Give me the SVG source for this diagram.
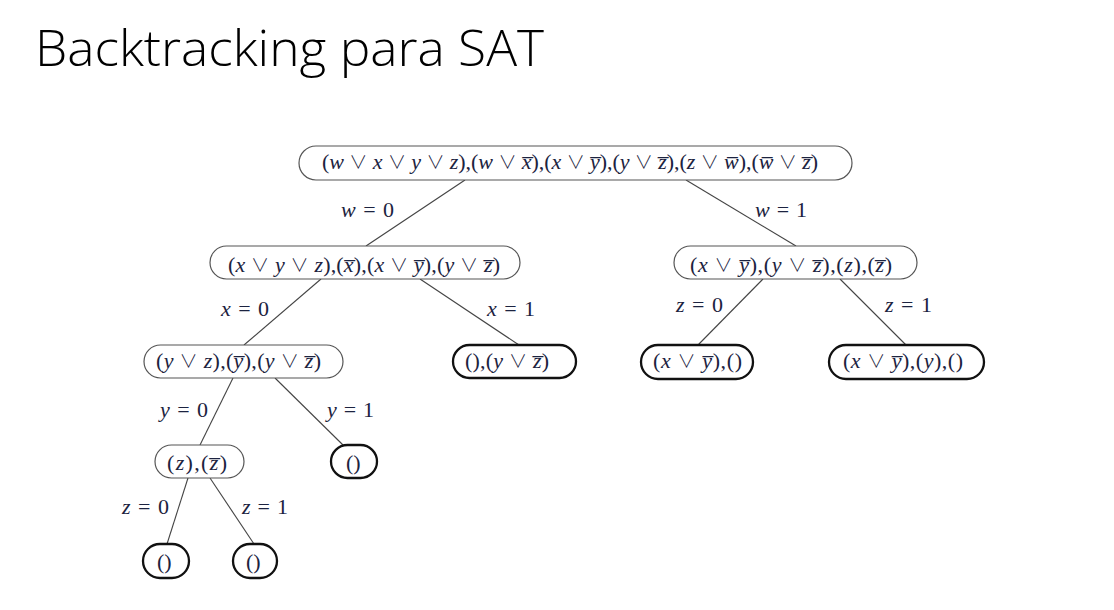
<svg xmlns="http://www.w3.org/2000/svg" width="1114" height="610" viewBox="0 0 1114 610">
<style>
.bg{fill:#ffffff}
.title{font-family:"Open Sans","Liberation Sans",sans-serif;font-weight:300;font-size:49px;fill:#000}
.m{font-family:"Liberation Serif",serif;font-size:22px;fill:#1c2340}
.v{font-style:italic}
.o{font-family:"Noto Sans CJK JP","DejaVu Serif",serif;font-size:18px;font-weight:300}
.n{fill:#fff;stroke:#555;stroke-width:1.2}
.leaf{fill:#fff;stroke:#111;stroke-width:2.3}
.e{stroke:#444;stroke-width:1.1;fill:none}
</style>
<rect class="bg" x="0" y="0" width="1114" height="610"/>
<text class="title" x="35" y="66" textLength="509" lengthAdjust="spacingAndGlyphs">Backtracking para SAT</text>

<g id="connectors">
<line class="e" x1="465" y1="180" x2="366" y2="246"/>
<line class="e" x1="686" y1="180" x2="796" y2="246"/>
<line class="e" x1="321" y1="279" x2="244" y2="345"/>
<line class="e" x1="420" y1="279" x2="519" y2="345"/>
<line class="e" x1="763" y1="279" x2="698" y2="345"/>
<line class="e" x1="840" y1="279" x2="906" y2="345"/>
<line class="e" x1="233" y1="378" x2="200" y2="445"/>
<line class="e" x1="275" y1="378" x2="343" y2="445"/>
<line class="e" x1="188" y1="478" x2="167" y2="544"/>
<line class="e" x1="210" y1="478" x2="254" y2="544"/>
<text class="m" x="341" y="217" textLength="53" lengthAdjust="spacing"><tspan class="v">w</tspan> = 0</text>
<text class="m" x="755" y="217" textLength="52" lengthAdjust="spacing"><tspan class="v">w</tspan> = 1</text>
<text class="m" x="221" y="316" textLength="48" lengthAdjust="spacing"><tspan class="v">x</tspan> = 0</text>
<text class="m" x="487" y="316" textLength="48" lengthAdjust="spacing"><tspan class="v">x</tspan> = 1</text>
<text class="m" x="676" y="312" textLength="47" lengthAdjust="spacing"><tspan class="v">z</tspan> = 0</text>
<text class="m" x="885" y="312" textLength="47" lengthAdjust="spacing"><tspan class="v">z</tspan> = 1</text>
<text class="m" x="160" y="417" textLength="48" lengthAdjust="spacing"><tspan class="v">y</tspan> = 0</text>
<text class="m" x="327" y="417" textLength="47" lengthAdjust="spacing"><tspan class="v">y</tspan> = 1</text>
<text class="m" x="122" y="514" textLength="47" lengthAdjust="spacing"><tspan class="v">z</tspan> = 0</text>
<text class="m" x="242" y="514" textLength="46" lengthAdjust="spacing"><tspan class="v">z</tspan> = 1</text>
</g>

<g id="n1">
<rect class="n" x="299" y="146" width="553" height="34" rx="17"/>
<text class="m" x="322" y="169" textLength="496" lengthAdjust="spacing">(<tspan class="v">w</tspan> <tspan class="o">∨</tspan> <tspan class="v">x</tspan> <tspan class="o">∨</tspan> <tspan class="v">y</tspan> <tspan class="o">∨</tspan> <tspan class="v">z</tspan>),(<tspan class="v">w</tspan> <tspan class="o">∨</tspan> <tspan class="v">x̅</tspan>),(<tspan class="v">x</tspan> <tspan class="o">∨</tspan> <tspan class="v">y̅</tspan>),(<tspan class="v">y</tspan> <tspan class="o">∨</tspan> <tspan class="v">z̅</tspan>),(<tspan class="v">z</tspan> <tspan class="o">∨</tspan> <tspan class="v">w̅</tspan>),(<tspan class="v">w̅</tspan> <tspan class="o">∨</tspan> <tspan class="v">z̅</tspan>)</text>
</g>

<g id="n2">
<rect class="n" x="210" y="246" width="310" height="33" rx="16.5"/>
<text class="m" x="228" y="272" textLength="272" lengthAdjust="spacing">(<tspan class="v">x</tspan> <tspan class="o">∨</tspan> <tspan class="v">y</tspan> <tspan class="o">∨</tspan> <tspan class="v">z</tspan>),(<tspan class="v">x̅</tspan>),(<tspan class="v">x</tspan> <tspan class="o">∨</tspan> <tspan class="v">y̅</tspan>),(<tspan class="v">y</tspan> <tspan class="o">∨</tspan> <tspan class="v">z̅</tspan>)</text>
</g>

<g id="n3">
<rect class="n" x="674" y="246" width="243" height="33" rx="16.5"/>
<text class="m" x="690" y="272" textLength="202" lengthAdjust="spacing">(<tspan class="v">x</tspan> <tspan class="o">∨</tspan> <tspan class="v">y̅</tspan>),(<tspan class="v">y</tspan> <tspan class="o">∨</tspan> <tspan class="v">z̅</tspan>),(<tspan class="v">z</tspan>),(<tspan class="v">z̅</tspan>)</text>
</g>

<g id="n4">
<rect class="n" x="144" y="345" width="199" height="33" rx="16.5"/>
<text class="m" x="156" y="368" textLength="165" lengthAdjust="spacing">(<tspan class="v">y</tspan> <tspan class="o">∨</tspan> <tspan class="v">z</tspan>),(<tspan class="v">y̅</tspan>),(<tspan class="v">y</tspan> <tspan class="o">∨</tspan> <tspan class="v">z̅</tspan>)</text>
</g>

<g id="n5">
<rect class="leaf" x="453" y="345" width="123" height="33" rx="16.5"/>
<text class="m" x="465" y="368" textLength="84" lengthAdjust="spacing">(),(<tspan class="v">y</tspan> <tspan class="o">∨</tspan> <tspan class="v">z̅</tspan>)</text>
</g>

<g id="n6">
<rect class="leaf" x="641" y="345" width="112" height="34" rx="17"/>
<text class="m" x="653" y="368" textLength="89" lengthAdjust="spacing">(<tspan class="v">x</tspan> <tspan class="o">∨</tspan> <tspan class="v">y̅</tspan>),()</text>
</g>

<g id="n7">
<rect class="leaf" x="829" y="345" width="155" height="34" rx="17"/>
<text class="m" x="843" y="368" textLength="120" lengthAdjust="spacing">(<tspan class="v">x</tspan> <tspan class="o">∨</tspan> <tspan class="v">y̅</tspan>),(<tspan class="v">y</tspan>),()</text>
</g>

<g id="n8">
<rect class="n" x="155" y="445" width="89" height="33" rx="16.5"/>
<text class="m" x="167" y="470" textLength="60" lengthAdjust="spacing">(<tspan class="v">z</tspan>),(<tspan class="v">z̅</tspan>)</text>
</g>

<g id="n9">
<rect class="leaf" x="331" y="445" width="46" height="33" rx="16.5"/>
<text class="m" x="346" y="470">()</text>
</g>

<g id="n10">
<rect class="leaf" x="143" y="544" width="46" height="34" rx="17"/>
<text class="m" x="157" y="569">()</text>
</g>

<g id="n11">
<rect class="leaf" x="233" y="544" width="44" height="34" rx="17"/>
<text class="m" x="246" y="569">()</text>
</g>
</svg>
